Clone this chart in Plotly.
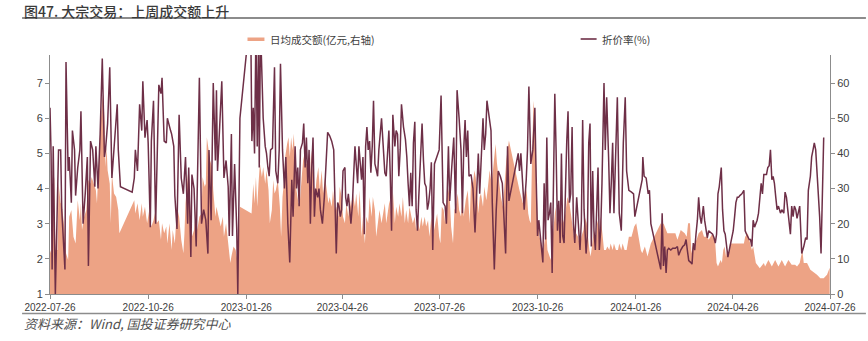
import pandas as pd
import plotly.graph_objects as go

START = "2022-07-26"
x_ticks = ["2022-07-26", "2022-10-26", "2023-01-26", "2023-04-26", "2023-07-26",
           "2023-10-26", "2024-01-26", "2024-04-26", "2024-07-26"]

title_text = "图47. 大宗交易：上周成交额上升"
source_text = "资料来源：Wind, 国投证券研究中心"
amt_name = "日均成交额(亿元,右轴)"
rate_name = "折价率(%)"

# 折价率(%) — day offsets from 2022-07-26, values (left axis)
rate_days = [0, 1, 2, 3, 5, 8, 10, 11, 14, 15, 17, 18, 20, 21, 23, 24, 26, 28, 29, 31,
             33, 35, 36, 38, 40, 42, 43, 45, 47, 49, 51, 52, 54, 56, 58, 59, 61, 63, 64, 66,
             77, 79, 80, 82, 84, 86, 87, 89, 91, 92, 94, 95, 97, 99, 102, 104, 105, 107, 109, 110,
             113, 114, 116, 117, 119, 121, 123, 125, 127, 129, 130, 132, 133, 135, 137, 139, 140, 142, 144, 146,
             148, 149, 151, 153, 155, 156, 157, 159, 161, 163, 165, 167, 168, 170, 171, 173, 175, 176,
             178.0, 188.0, 189.2, 190.5, 191.7, 193.0, 194.2, 195.4, 196.1, 197.3, 198.6, 199.8, 201.7, 202.9, 204.2, 205.4,
             206.7, 208.5, 210.4, 211.6, 213.5, 214.8, 216.0, 217.9, 219.7, 221.0, 222.9, 224.7, 226.6, 227.8, 229.7, 231.0,
             232.2, 233.5, 234.7, 236.6, 237.8, 239.1, 240.3, 241.6, 242.8, 244.0, 245.3, 246.5, 247.8, 249.0, 250.9, 252.1,
             253.4, 255.3, 257.1, 259.0, 260.2, 262.1, 264.0, 265.9, 267.1, 268.3, 269.6, 270.8, 272.1, 273.3, 274.6, 276.4,
             277.1, 278.3, 279.6, 280.8, 282.0, 283.3, 284.5, 285.8, 287.0, 288.3, 289.5, 290.8, 292.0, 293.3, 294.5, 295.8,
             297.0, 298.2, 299.5, 300.7, 302.0, 303.2, 304.5, 305.7, 307.0, 308.2, 309.5, 310.7, 312.0, 313.8, 315.1, 316.3,
             317.6, 318.8, 320.1, 321.3, 323.2, 324.4, 325.7, 326.9, 328.2, 329.4, 331.3, 333.1, 334.4, 335.6, 336.9, 338.1,
             339.4, 340.6, 341.9, 343.1, 344.4, 345.6, 346.8, 348.7, 350.0, 351.2, 352.5, 353.7, 354.9, 356.2, 357.4, 358.7,
             360.3, 362.8, 364.7, 366.5, 368.4, 370.3, 371.5, 373.4, 374.6, 376.5, 378.4, 380.2, 381.5, 383.4, 385.2, 386.5,
             387.7, 389.0, 390.2, 391.5, 392.7, 394.6, 396.4, 398.3, 400.2, 401.4, 402.7, 404.5, 405.8, 407.0, 408.3, 409.5,
             411.4, 413.3, 414.5, 416.4, 418.2, 420.1, 422.0, 423.9, 425.7, 427.0, 428.8, 430.1, 438.8, 440.0, 441.3, 442.5,
             444.4, 446.3, 447.5, 448.8, 450.6, 452.5, 454.4, 455.6, 456.9, 458.1, 459.4, 460.6, 461.9, 463.1, 464.4, 465.6,
             466.8, 468.1, 469.3, 470.6, 471.8, 473.1, 474.3, 475.6, 476.8, 478.1, 479.3, 480.5, 481.8, 483.0, 484.3, 485.5,
             486.8, 488.0, 489.3, 490.5, 491.8, 493.6, 495.5, 496.7, 498.0, 499.2, 500.5, 502.4, 503.6, 504.9, 506.1, 507.3,
             508.6, 509.8, 511.1, 512.3, 513.6, 514.8, 516.1, 517.3, 519.2, 520.4, 521.7, 523.5, 524.8, 526.0, 527.3, 528.5,
             530.4, 531.7, 533.5, 535.4, 537.3, 539.1, 540.4,
             542.5, 545.0, 546.9, 548.1, 549.4, 551.2, 553.1, 555.0, 555.6, 556.8, 558.7, 560.6, 561.8, 563.1, 572.4, 573.7,
             574.9, 576.1, 577.4, 578.6, 579.9, 581.8, 583.6, 586.1, 588.0, 589.2, 591.1, 593.0, 594.8, 596.1, 597.3, 598.6,
             600.4, 601.7, 602.9, 604.2, 605.4, 606.7, 607.9, 609.2, 610.4, 612.3, 613.5, 614.8, 616.0, 617.3, 619.1, 621.0,
             622.3, 623.5, 624.7, 626.0, 627.2, 628.5, 629.1, 630.3, 631.6, 632.8, 634.1, 635.3, 636.6, 637.8, 639.1, 640.3,
             641.6, 642.8, 644.1, 645.3, 646.5, 648.4, 650.3, 651.5, 652.8, 654.0, 655.3, 656.5, 657.8, 659.0, 660.3, 661.5,
             662.7, 664.0, 665.2, 666.5, 667.7, 669.0, 670.2, 671.5, 672.7, 674.0, 675.2, 676.5, 677.7, 678.9, 680.2, 681.4,
             682.7, 684.6, 685.8, 687.7, 688.9, 690.2, 691.4, 692.7, 693.9, 695.1, 696.4, 697.6, 698.9, 700.1, 701.4, 702.6,
             703.9, 704.5, 706.4, 708.2, 709.5, 710.7, 712.6, 713.8, 715.1, 716.3, 717.6, 718.8, 720.1, 721.3, 722.6, 723.8,
             725.1]
rate_vals = [6.3, 5.0, 1.7, 5.2, 1.0, 5.1, 5.1, 3.4, 1.7, 7.6, 4.5, 4.9, 3.6, 5.65, 5.1, 3.8, 4.6, 5.1, 6.2, 3.0,
             3.85, 4.9, 1.8, 5.35, 5.1, 4.05, 5.2, 4.0, 5.55, 7.7, 4.9, 5.1, 5.85, 7.45, 4.3, 4.7, 5.45, 6.4, 5.1, 4.05,
             3.9, 4.3, 5.1, 4.5, 6.4, 5.65, 7.05, 5.45, 5.95, 5.3, 2.9, 5.35, 6.5, 3.0, 6.95, 6.7, 7.15, 5.35, 5.3, 6.0,
             5.65, 5.55, 5.2, 3.8, 2.85, 6.1, 4.3, 3.85, 4.9, 3.0, 4.6, 2.05, 4.4, 4.0, 2.35, 5.2, 7.15, 3.0, 3.4, 3.1,
             2.15, 5.1, 3.1, 7.0, 4.8, 6.8, 4.5, 5.75, 7.05, 4.3, 4.8, 4.05, 2.65, 5.55, 2.65, 4.7, 2.85, 1.0,
             6.0, 9.05, 5.35, 6.3, 5.0, 8.5, 5.2, 8.2, 4.6, 8.6, 7.0, 6.0, 5.2, 5.0, 4.6, 4.35,
             5.1, 5.15, 7.45, 4.5, 4.15, 5.1, 7.55, 5.1, 4.0, 4.9, 3.0, 1.9, 4.25, 3.2, 5.2, 4.0,
             4.6, 3.5, 5.1, 5.3, 5.85, 4.6, 5.45, 4.15, 5.1, 3.0, 4.6, 5.45, 3.2, 4.0, 3.75, 4.0,
             3.4, 3.0, 3.75, 4.9, 5.6, 5.5, 5.35, 5.1, 3.2, 2.15, 3.6, 3.5, 3.2, 3.4, 4.5, 4.6,
             3.75, 3.5, 3.85, 3.3, 3.0, 3.5, 4.35, 5.2, 4.7, 4.15, 5.2, 4.8, 4.25, 4.9, 2.7, 5.2,
             5.75, 5.1, 5.35, 4.45, 5.2, 6.5, 4.7, 4.55, 4.35, 5.1, 5.55, 6.0, 5.35, 4.45, 4.35, 5.2,
             5.65, 4.45, 2.8, 6.1, 5.2, 5.65, 5.55, 4.35, 5.1, 6.4, 5.75, 5.4, 4.9, 4.15, 3.5, 4.45,
             3.5, 5.3, 5.9, 3.4, 2.8, 3.75, 4.6, 5.85, 4.8, 4.15, 4.05, 3.4, 3.6, 4.0, 4.75, 2.25,
             4.7, 4.9, 5.1, 6.65, 3.6, 3.5, 3.0, 5.2, 3.65, 4.6, 5.45, 3.3, 6.8, 6.0, 5.1, 3.3,
             5.1, 5.95, 4.9, 5.65, 4.35, 4.4, 4.0, 2.75, 4.15, 5.0, 3.85, 5.1, 6.0, 5.1, 5.55, 6.5,
             6.1, 5.65, 3.6, 1.7, 3.4, 4.5, 4.35, 4.15, 3.0, 2.15, 5.2, 3.65, 5.0, 4.5, 5.0, 4.4,
             3.4, 4.25, 5.1, 6.9, 4.7, 5.1, 6.3, 4.35, 2.65, 3.1, 2.65, 2.25, 1.9, 4.15, 2.55, 5.45,
             3.1, 3.3, 3.6, 1.6, 4.35, 6.7, 5.1, 2.8, 3.65, 2.45, 5.0, 2.65, 2.45, 4.0, 5.35, 6.2,
             3.6, 3.85, 5.75, 3.0, 2.45, 3.75, 2.65, 2.25, 3.1, 5.95, 3.4, 2.15, 2.65, 5.3, 5.85, 2.35,
             4.5, 2.8, 2.25, 3.6, 4.6, 2.25, 2.8, 4.15, 7.0, 5.1, 6.6, 4.9, 3.3, 4.15, 5.3, 3.3,
             5.1, 6.6, 3.3, 2.8, 5.3, 6.6, 4.5,
             3.95, 3.9, 3.85, 3.2, 3.4, 3.65, 3.95, 4.25, 4.9, 4.35, 4.3, 3.85, 3.95, 3.0, 1.7, 3.3,
             1.8, 2.35, 1.6, 2.25, 2.3, 2.25, 2.3, 2.3, 2.35, 2.1, 2.25, 2.35, 2.4, 2.55, 2.25, 1.95,
             1.9, 1.85, 2.45, 2.25, 2.7, 3.1, 3.75, 3.2, 3.0, 3.5, 3.1, 2.8, 2.6, 2.8, 2.75, 2.7,
             2.6, 2.45, 2.7, 3.85, 4.05, 4.35, 4.6, 3.4, 2.8, 2.7, 2.25, 2.05, 2.25, 2.45, 2.55, 2.8,
             3.2, 3.6, 3.75, 3.75, 3.8, 3.85, 3.95, 2.8, 2.7, 2.6, 2.55, 2.55, 2.35, 3.1, 2.9, 3.0,
             3.1, 3.3, 3.65, 4.15, 3.85, 4.4, 4.4, 4.4, 4.6, 4.65, 5.1, 4.25, 4.35, 4.15, 3.75, 3.4,
             3.5, 3.3, 3.4, 3.3, 3.9, 3.75, 3.4, 3.1, 2.7, 3.5, 3.2, 3.5, 3.4, 3.15, 3.4, 3.5,
             2.6, 2.15, 2.35, 2.6, 2.55, 3.95, 4.35, 4.9, 5.1, 5.3, 5.1, 4.5, 3.95, 3.2, 2.15, 3.75,
             5.45]

# 日均成交额(亿元) — day offsets from 2022-07-26, values (right axis)
amt_days = [0, 1, 3, 4, 5, 7, 8, 10, 11, 13, 15, 17, 18, 20, 22, 24, 26, 28, 29, 30,
            32, 34, 36, 38, 39, 41, 43, 44, 46, 47, 49, 50, 51, 52, 53, 54, 56, 57, 58, 60,
            62, 64, 65, 79, 80, 82, 84, 86, 87, 89, 91, 93, 95, 97, 99, 100, 102, 104, 105, 107,
            109, 110, 112, 114, 115, 117, 119, 121, 123, 125, 126, 127, 129, 130, 132, 133, 135, 137, 138, 140,
            142, 143, 145, 146, 147, 148, 150, 152, 153, 155, 156, 158, 160, 162, 163, 165, 167, 168, 169, 170,
            172, 174, 176,
            178.0, 188.9, 190.5, 191.7, 193.0, 194.2, 195.4, 196.7, 198.6, 199.8, 201.7, 202.9, 204.8, 206.0, 207.9, 209.2,
            210.4, 211.6, 213.5, 215.4, 216.6, 217.9, 219.1, 220.4, 222.2, 223.5, 224.7, 226.0, 227.2, 228.5, 229.7, 231.0,
            232.8, 234.1, 235.9, 237.2, 239.1, 240.3, 242.2, 243.4, 244.7, 246.5, 248.4, 249.7, 251.5, 252.8, 254.6, 255.9,
            257.8, 259.0, 260.9, 262.1, 264.0, 265.2, 267.1, 268.3, 270.2, 271.5, 273.3, 274.6, 276.4, 277.7, 279.6, 280.8,
            282.0, 283.9, 285.8, 287.0, 288.9, 290.2, 292.0, 293.3, 295.1, 296.4, 298.2, 299.5, 301.4, 302.6, 304.5, 305.7,
            307.6, 308.8, 310.7, 312.0, 313.8, 315.1, 316.9, 318.2, 320.1, 321.3, 323.2, 324.4, 326.3, 327.5, 329.4, 330.7,
            332.5, 333.8, 335.6, 336.9, 338.7, 340.0, 341.9, 343.1, 345.0, 346.2, 348.1, 349.3, 351.2, 352.5, 354.3, 355.6,
            357.4, 358.7, 360.6,
            362.8, 364.7, 365.9, 367.2, 369.0, 370.3, 371.5, 372.8, 374.6, 375.9, 377.7, 379.0, 380.2, 382.1, 383.4, 385.2,
            386.5, 387.7, 389.6, 391.5, 393.3, 394.6, 396.4, 397.7, 398.9, 400.2, 401.4, 402.7, 403.9, 405.8, 407.0, 408.9,
            410.1, 412.0, 413.9, 415.7, 417.6, 418.9, 420.1, 421.4, 422.6, 424.5, 425.7, 427.6, 428.8, 430.1, 440.0, 441.9,
            443.2, 444.4, 445.7, 446.9, 448.2, 449.4, 450.6, 451.9, 453.1, 454.4, 455.6, 456.9, 458.7, 460.6, 461.9, 463.1,
            465.0, 466.2, 468.1, 469.3, 471.2, 472.5, 473.7, 475.6, 476.8, 478.1, 479.9, 481.8, 483.7, 484.9, 486.8, 488.0,
            489.9, 491.1, 493.0, 494.9, 496.7, 498.0, 499.9, 501.1, 503.0, 504.2, 505.5, 506.7, 508.6, 509.8, 511.7, 512.9,
            514.8, 516.1, 518.0, 519.2, 521.0, 522.3, 524.2, 525.4, 527.3, 528.5, 530.4, 532.3, 533.5, 535.4, 536.6, 538.5,
            540.4,
            542.5, 545.0, 547.5, 549.4, 551.8, 553.7, 555.0, 557.5, 560.0, 561.8, 563.1, 572.4, 573.7, 574.9, 577.4, 578.6,
            581.8, 586.1, 588.0, 591.1, 594.8, 596.7, 598.0, 599.8, 601.1, 602.3, 604.2, 606.0, 607.9, 611.0, 612.9, 616.0,
            617.3, 621.0, 623.5, 624.7, 626.0, 628.5, 629.7, 631.0, 632.2, 633.5, 634.7, 636.0, 637.2, 640.9, 645.3, 650.3,
            651.5, 654.0, 655.3, 656.5, 657.8, 659.0, 660.3, 661.5, 664.0, 665.2, 669.0, 670.2, 673.3, 676.5, 679.6, 682.7,
            685.8, 688.9, 692.0, 695.1, 698.3, 700.1, 702.6, 703.9, 705.1, 706.4, 709.5, 712.6, 715.7, 718.8, 721.9, 725.1,
            728.2, 730.7]
amt_vals = [12.5, 11.6, 31.4, 33.3, 12.5, 12.5, 31.4, 25.8, 25.8, 20.1, 11.6, 9.7, 22.0, 23.9, 16.3, 14.4, 26.7, 21.0, 25.8, 18.2,
            22.0, 23.9, 32.4, 31.4, 33.3, 31.4, 29.5, 25.8, 39.0, 46.5, 55.0, 56.9, 50.3, 36.1, 41.8, 35.2, 31.4, 20.1, 34.2, 28.6,
            27.6, 23.9, 17.3, 26.7, 22.9, 25.8, 21.0, 25.8, 22.0, 24.8, 20.1, 23.9, 19.2, 21.0, 23.9, 20.1, 21.0, 15.4, 20.1, 17.3,
            19.2, 14.4, 20.1, 12.5, 18.2, 14.4, 24.8, 22.0, 15.4, 11.6, 17.3, 25.8, 33.3, 36.1, 20.1, 16.3, 18.2, 24.8, 18.2, 22.0,
            22.9, 33.3, 30.5, 31.4, 44.6, 41.8, 38.0, 36.1, 29.5, 22.0, 24.8, 22.0, 19.2, 22.0, 16.3, 20.1, 14.4, 12.5, 8.8, 10.7,
            13.5, 12.5, 8.8,
            24.8, 22.9, 31.4, 25.8, 33.3, 24.8, 31.4, 37.1, 33.3, 36.1, 31.4, 35.2, 29.5, 20.1, 23.9, 32.4,
            28.6, 29.5, 32.4, 24.8, 16.3, 27.6, 31.4, 39.0, 42.7, 44.6, 39.0, 44.6, 40.8, 45.6, 37.1, 29.5,
            25.8, 25.8, 33.3, 38.0, 40.8, 37.1, 36.1, 30.5, 40.8, 33.3, 27.6, 32.4, 36.1, 29.5, 35.2, 28.6,
            33.3, 30.5, 25.8, 27.6, 24.8, 29.5, 23.9, 24.8, 22.0, 30.5, 27.6, 22.0, 20.1, 25.8, 22.0, 27.6,
            24.8, 28.6, 24.8, 28.6, 22.0, 29.5, 16.3, 22.0, 14.4, 22.0, 20.1, 27.6, 22.0, 27.6, 23.9, 16.3,
            22.0, 23.9, 20.1, 22.9, 25.8, 20.1, 24.8, 26.7, 22.0, 29.5, 20.1, 24.8, 22.0, 25.8, 22.0, 27.6,
            20.1, 23.9, 20.1, 24.8, 22.0, 20.1, 22.0, 18.2, 21.0, 18.2, 22.0, 19.2, 22.0, 19.2, 21.0, 16.3,
            22.0, 16.3, 19.2,
            22.9, 16.3, 14.4, 24.8, 23.9, 20.1, 24.8, 30.5, 27.6, 19.2, 14.4, 23.9, 24.8, 28.6, 23.9, 22.0,
            28.6, 22.0, 26.7, 29.5, 20.1, 32.4, 31.4, 35.2, 33.3, 29.5, 22.9, 27.6, 28.6, 24.8, 30.5, 26.7,
            29.5, 35.2, 31.4, 38.0, 42.7, 37.1, 34.2, 29.5, 27.6, 24.8, 30.5, 38.0, 40.8, 43.7, 29.5, 27.6,
            25.8, 27.6, 30.5, 28.6, 22.9, 21.0, 20.1, 40.8, 55.0, 50.0, 38.0, 22.0, 16.3, 14.4, 11.6, 14.4,
            18.2, 12.5, 10.7, 9.7, 16.3, 22.0, 24.8, 18.2, 21.0, 18.2, 22.0, 20.1, 23.9, 27.6, 25.8, 22.9,
            18.2, 16.3, 17.3, 16.3, 13.5, 16.3, 18.2, 22.0, 20.1, 16.3, 12.5, 10.7, 16.3, 18.2, 15.4, 21.0,
            18.2, 22.0, 16.3, 12.5, 12.5, 13.5, 12.5, 14.4, 12.5, 14.4, 12.5, 12.5, 14.4, 12.5, 14.4, 12.5,
            12.5,
            16.3, 16.3, 19.2, 20.1, 16.3, 12.5, 11.6, 13.5, 10.7, 12.5, 14.4, 20.1, 19.2, 20.1, 18.2, 17.3,
            17.3, 17.3, 15.4, 18.2, 17.3, 16.3, 20.1, 20.1, 11.6, 13.5, 14.4, 15.4, 17.3, 18.2, 16.3, 16.3,
            15.4, 17.3, 14.4, 8.8, 7.8, 9.7, 8.8, 12.5, 13.5, 10.7, 12.5, 10.7, 14.4, 14.4, 14.4, 14.4,
            16.3, 17.3, 15.4, 13.5, 12.5, 13.5, 10.7, 8.8, 7.8, 7.3, 8.8, 7.8, 9.7, 7.8, 9.7, 7.8,
            9.7, 7.8, 9.7, 8.3, 8.3, 7.8, 8.8, 10.7, 12.5, 8.8, 8.8, 6.9, 6.2, 5.5, 4.5, 4.5,
            5.5, 7.5]

start = pd.Timestamp(START)
rate_x = start + pd.to_timedelta(rate_days, unit="D")
amt_x = start + pd.to_timedelta(amt_days, unit="D")

AREA = "#EDA385"
LINE = "#6E2F47"
AXIS = "#8C8C8C"
TXT = "#404040"
CJK = "Noto Sans CJK SC, Liberation Sans, sans-serif"

# layout geometry (pixels)
W, H = 868, 341
L, R, T, B = 50, 36, 55, 47
PW, PH = W - L - R, H - T - B


def px(xp):
    return (xp - L) / PW


def py(yp):
    return (H - B - yp) / PH


fig = go.Figure()
fig.add_trace(go.Scatter(x=amt_x, y=amt_vals, name=amt_name, mode="lines",
                         fill="tozeroy", fillcolor=AREA, line=dict(width=0, color=AREA),
                         yaxis="y", showlegend=False, hoverinfo="x+y"))
fig.add_trace(go.Scatter(x=rate_x, y=rate_vals, name=rate_name, mode="lines",
                         line=dict(width=1.5, color=LINE), yaxis="y2",
                         showlegend=False, hoverinfo="x+y"))

axis_common = dict(showline=True, linecolor=AXIS, linewidth=1, ticks="outside",
                   tickcolor=AXIS, ticklen=4, showgrid=False, zeroline=False,
                   tickfont=dict(family="Liberation Sans, sans-serif", size=11, color=TXT))

fig.update_layout(
    width=W, height=H, autosize=False,
    margin=dict(l=L, r=R, t=T, b=B, pad=0),
    paper_bgcolor="white", plot_bgcolor="white",
    xaxis=dict(type="date", range=[x_ticks[0], x_ticks[-1]], tickvals=x_ticks,
               ticktext=x_ticks, **{k: v for k, v in axis_common.items() if k != "tickfont"},
               tickfont=dict(family="Liberation Sans Narrow, Liberation Sans, sans-serif", size=10, color=TXT)),
    yaxis=dict(range=[0, 68], tick0=0, dtick=10, side="right", **axis_common),
    yaxis2=dict(range=[1, 7.8], tick0=1, dtick=1, side="left", overlaying="y", **axis_common),
)

shapes = [
    # title underline
    dict(type="line", xref="paper", yref="paper", x0=px(22), x1=px(868), y0=py(18), y1=py(18),
         line=dict(color="#8C8C8C", width=2)),
    # bottom separator
    dict(type="line", xref="paper", yref="paper", x0=px(22), x1=px(868), y0=py(313.5), y1=py(313.5),
         line=dict(color="#8C8C8C", width=1.5)),
    # legend swatches
    dict(type="rect", xref="paper", yref="paper", x0=px(248), x1=px(265), y0=py(41), y1=py(37.5),
         fillcolor=AREA, line=dict(width=0)),
    dict(type="line", xref="paper", yref="paper", x0=px(582), x1=px(598), y0=py(39), y1=py(39),
         line=dict(color=LINE, width=1.6)),
]

annotations = [
    dict(text=title_text, xref="paper", yref="paper", x=px(23), y=py(0),
         xanchor="left", yanchor="top", showarrow=False, borderpad=0,
         font=dict(family=CJK, size=14, color="#3A3A3A", weight=500)),
    dict(text=amt_name, xref="paper", yref="paper", x=px(269), y=py(39.5),
         xanchor="left", yanchor="middle", showarrow=False,
         font=dict(family=CJK, size=10.5, color=TXT)),
    dict(text=rate_name, xref="paper", yref="paper", x=px(601), y=py(39.5),
         xanchor="left", yanchor="middle", showarrow=False,
         font=dict(family=CJK, size=10.5, color=TXT)),
    dict(text=source_text, xref="paper", yref="paper", x=px(22), y=py(323),
         xanchor="left", yanchor="middle", showarrow=False,
         font=dict(family=CJK, size=13, color="#505050", style="italic")),
]
fig.update_layout(shapes=shapes, annotations=annotations)

fig.write_html("out.html", config={"displayModeBar": False})
